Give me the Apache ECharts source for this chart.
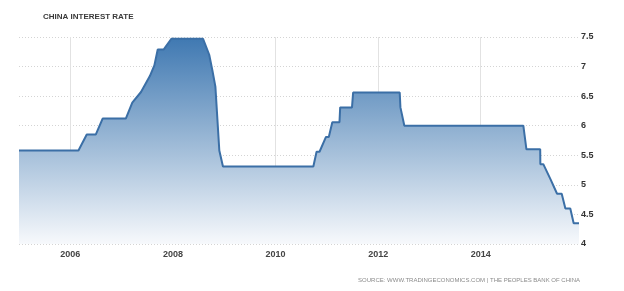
<!DOCTYPE html>
<html>
<head>
<meta charset="utf-8">
<script src="https://cdn.jsdelivr.net/npm/echarts@6/dist/echarts.min.js"></script>
<style>
html,body{margin:0;padding:0;background:#fff;}
#chart{width:624px;height:291px;}
</style>
</head>
<body>
<div id="chart"></div>
<script>
// Dates (points along the rate path) and rates in percent
var dates = [
  '2005-01-01','2006-02-28','2006-04-28','2006-07-01','2006-08-19',
  '2007-01-31','2007-03-18','2007-03-31','2007-05-19','2007-07-21',
  '2007-08-22','2007-09-15','2007-10-28','2007-12-21','2008-08-03',
  '2008-09-16','2008-10-09','2008-10-30','2008-11-27','2008-12-23',
  '2010-09-27','2010-10-20','2010-11-10','2010-12-26','2011-01-15',
  '2011-02-09','2011-04-01','2011-04-06','2011-06-29','2011-07-07',
  '2012-06-03','2012-06-08','2012-07-06','2014-10-31','2014-11-22',
  '2015-02-28','2015-03-01','2015-03-22','2015-05-11','2015-06-28',
  '2015-07-31','2015-08-26','2015-09-30','2015-10-24','2015-12-01'
];
var rates = [
  5.58, 5.58, 5.85, 5.85, 6.12,
  6.12, 6.39, 6.39, 6.57, 6.84,
  7.02, 7.29, 7.29, 7.47, 7.47,
  7.20, 6.93, 6.66, 5.58, 5.31,
  5.31, 5.56, 5.56, 5.81, 5.81,
  6.06, 6.06, 6.31, 6.31, 6.56,
  6.56, 6.31, 6.00, 6.00, 5.60,
  5.60, 5.35, 5.35, 5.10, 4.85,
  4.85, 4.60, 4.60, 4.35, 4.35
];
var yearTicks = [2006, 2008, 2010, 2012, 2014];
var titleText = 'CHINA INTEREST RATE';
var sourceText = 'SOURCE: WWW.TRADINGECONOMICS.COM | THE PEOPLES BANK OF CHINA';

function toDecimalYear(s) {
  var p = s.split('-').map(Number);
  var start = Date.UTC(p[0], 0, 1), end = Date.UTC(p[0] + 1, 0, 1);
  return p[0] + (Date.UTC(p[0], p[1] - 1, p[2]) - start) / (end - start);
}
var seriesData = dates.map(function (d, i) { return [toDecimalYear(d), rates[i]]; });

var chart = echarts.init(document.getElementById('chart'), null, {renderer: 'canvas'});
chart.setOption({
  backgroundColor: '#fff',
  animation: false,
  title: [
    {text: titleText, left: 38, top: 8,
     textStyle: {fontFamily: 'Liberation Sans', fontSize: 8, fontWeight: 'bold', color: '#3a3a3a'}},
    {text: sourceText, right: 39, top: 272,
     textStyle: {fontFamily: 'Liberation Sans', fontSize: 6, fontWeight: 'normal', color: '#8a8a8a'}}
  ],
  grid: {left: 19, right: 45, top: 37, bottom: 47, containLabel: false},
  xAxis: {
    type: 'value',
    min: toDecimalYear('2005-01-01'),
    max: toDecimalYear('2015-12-01'),
    axisLine: {show: false},
    axisTick: {show: false, customValues: yearTicks},
    axisLabel: {
      customValues: yearTicks, margin: 6,
      fontFamily: 'Liberation Sans', fontSize: 9, fontWeight: 'bold', color: '#444',
      formatter: function (v) { return String(Math.round(v)); }
    },
    splitLine: {show: true, lineStyle: {color: '#e2e2e2', width: 1, type: 'solid'}}
  },
  yAxis: {
    type: 'value',
    position: 'right',
    min: 4, max: 7.5, interval: 0.5,
    axisLine: {show: false},
    axisTick: {show: false},
    axisLabel: {
      margin: 2, fontFamily: 'Liberation Sans', fontSize: 9, fontWeight: 'bold', color: '#333',
      formatter: function (v) { return String(v); }
    },
    splitLine: {show: true, lineStyle: {color: '#d4d4d4', width: 1, type: [1, 2]}}
  },
  series: [{
    type: 'line',
    data: seriesData,
    showSymbol: false,
    symbol: 'none',
    lineStyle: {color: '#3b6fa6', width: 2},
    areaStyle: {
      opacity: 1,
      color: new echarts.graphic.LinearGradient(0, 0, 0, 1, [
        {offset: 0, color: '#4079b2'},
        {offset: 0.45, color: '#92b2d2'},
        {offset: 1, color: '#f7f9fc'}
      ])
    }
  }]
});
</script>
</body>
</html>
